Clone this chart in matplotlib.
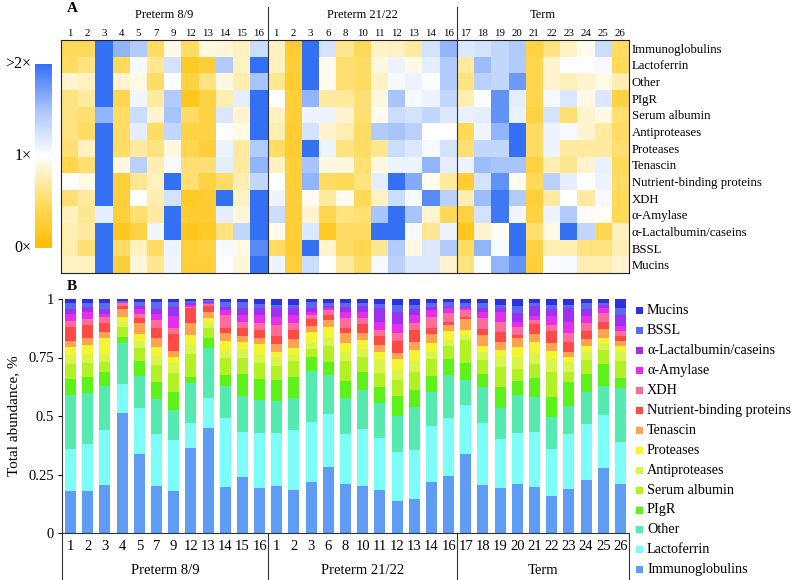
import numpy as np
import matplotlib
matplotlib.use("Agg")
import matplotlib.pyplot as plt
from matplotlib.colors import LinearSegmentedColormap
from matplotlib.patches import Rectangle

plt.rcParams['font.family'] = ['Liberation Serif', 'DejaVu Serif']

# ---------------- data ----------------
proteins = ["Immunoglobulins", "Lactoferrin", "Other", "PIgR", "Serum albumin",
            "Antiproteases", "Proteases", "Tenascin", "Nutrient-binding proteins",
            "XDH", "α-Amylase", "α-Lactalbumin/caseins", "BSSL", "Mucins"]

groups = ["Preterm 8/9", "Preterm 21/22", "Term"]
samples_pre89 = ["1", "2", "3", "4", "5", "7", "9", "12", "13", "14", "15", "16"]
samples_pre2122 = ["1", "2", "3", "6", "8", "10", "11", "12", "13", "14", "16"]
samples_term = ["17", "18", "19", "20", "21", "22", "23", "24", "25", "26"]

# fold change (0 .. >2) heatmap, rows = proteins, cols = samples
fold_pre89 = [
    [0.45, 0.45, 2.0, 1.6, 1.45, 0.5, 0.92, 0.5, 0.9, 0.88, 0.8, 1.3],
    [0.5, 0.6, 2.0, 0.45, 1.05, 0.65, 1.25, 0.2, 0.3, 1.45, 0.8, 2.0],
    [0.85, 0.8, 2.0, 0.85, 0.92, 0.5, 1.0, 0.35, 0.6, 0.9, 0.75, 1.5],
    [0.6, 0.7, 2.0, 0.4, 1.08, 0.7, 1.45, 0.15, 0.35, 0.75, 1.15, 2.0],
    [0.6, 0.55, 1.6, 0.5, 1.3, 0.85, 1.5, 0.5, 0.35, 1.2, 0.85, 2.0],
    [0.6, 0.5, 2.0, 0.5, 1.15, 0.5, 1.35, 0.35, 0.35, 1.02, 0.92, 2.0],
    [0.55, 0.8, 2.0, 0.5, 0.7, 0.6, 0.9, 0.4, 0.3, 1.1, 0.7, 1.45],
    [0.4, 0.55, 2.0, 0.9, 1.4, 0.75, 1.05, 0.55, 0.55, 1.15, 0.7, 1.6],
    [1.0, 0.92, 2.0, 0.3, 0.65, 0.8, 2.0, 0.55, 0.35, 0.5, 0.75, 1.35],
    [0.55, 0.7, 2.0, 0.3, 1.0, 0.75, 1.25, 0.2, 0.25, 2.0, 0.8, 2.0],
    [0.8, 0.65, 1.15, 0.3, 0.55, 0.7, 2.0, 0.25, 0.25, 1.15, 0.88, 2.0],
    [0.75, 0.7, 2.0, 0.15, 0.35, 1.08, 2.0, 0.15, 0.2, 0.6, 1.35, 2.0],
    [0.75, 0.55, 2.0, 0.5, 0.8, 0.5, 1.1, 0.3, 0.35, 1.05, 0.92, 1.85],
    [0.8, 0.8, 2.0, 0.3, 0.88, 0.65, 1.08, 0.3, 0.3, 1.02, 0.88, 2.0],
]
fold_pre2122 = [
    [0.8, 0.25, 2.0, 1.25, 0.65, 0.45, 0.82, 0.8, 0.7, 1.25, 1.6],
    [0.8, 0.3, 2.0, 0.95, 0.55, 0.5, 0.9, 1.1, 0.92, 1.15, 1.45],
    [0.65, 0.25, 2.0, 0.95, 0.55, 0.5, 0.82, 1.05, 1.1, 1.03, 1.45],
    [1.0, 0.3, 1.6, 0.7, 0.7, 0.55, 0.9, 1.5, 1.05, 1.1, 1.35],
    [0.8, 0.3, 1.1, 1.1, 0.85, 0.55, 0.95, 1.3, 1.25, 1.35, 1.2],
    [0.75, 0.25, 1.25, 0.85, 0.75, 0.5, 1.45, 1.5, 1.4, 1.0, 1.0],
    [0.5, 0.25, 2.0, 1.1, 0.6, 0.5, 0.65, 1.3, 1.2, 1.05, 1.25],
    [0.8, 0.3, 1.5, 0.9, 0.9, 0.55, 0.9, 1.1, 1.1, 1.6, 1.15],
    [1.0, 0.3, 1.6, 0.5, 0.45, 0.6, 1.15, 2.0, 1.65, 0.95, 0.7],
    [1.1, 0.3, 0.95, 0.7, 0.95, 0.45, 0.8, 1.3, 1.05, 1.85, 1.4],
    [1.3, 0.3, 0.85, 0.4, 0.6, 0.55, 1.5, 2.0, 1.5, 0.85, 0.45],
    [0.95, 0.3, 1.2, 0.2, 0.5, 0.5, 2.0, 2.0, 1.05, 0.65, 1.1],
    [0.5, 0.25, 2.0, 0.85, 0.5, 0.4, 0.65, 1.45, 0.9, 1.2, 1.45],
    [1.1, 0.3, 1.3, 1.0, 0.7, 0.5, 1.05, 1.4, 1.2, 1.2, 0.85],
]
fold_term = [
    [1.2, 1.25, 1.35, 1.45, 0.35, 0.6, 0.82, 0.95, 1.3, 0.5],
    [0.7, 1.55, 1.35, 1.45, 0.4, 0.85, 1.02, 1.02, 1.05, 0.45],
    [0.6, 1.4, 1.35, 1.75, 0.4, 0.85, 0.78, 0.85, 0.92, 0.75],
    [0.75, 1.0, 1.8, 1.15, 0.4, 1.05, 1.2, 0.92, 1.2, 0.35],
    [1.12, 1.15, 1.8, 1.12, 0.35, 1.25, 0.55, 0.85, 0.92, 0.55],
    [0.45, 1.08, 1.6, 2.0, 0.5, 1.1, 1.05, 0.85, 0.7, 0.5],
    [0.55, 1.35, 1.35, 2.0, 0.5, 1.1, 0.7, 0.7, 0.7, 0.55],
    [1.1, 1.55, 1.5, 1.5, 0.35, 0.75, 0.65, 0.85, 1.12, 0.45],
    [0.25, 1.25, 1.8, 0.95, 0.45, 1.4, 1.15, 1.0, 1.1, 0.5],
    [0.75, 1.55, 1.95, 1.45, 0.3, 0.7, 1.0, 0.7, 1.05, 0.45],
    [0.35, 1.25, 1.95, 1.08, 0.35, 1.1, 1.45, 1.03, 0.97, 0.45],
    [0.15, 0.85, 0.97, 2.0, 0.55, 0.92, 2.0, 1.35, 0.4, 0.8],
    [0.5, 1.6, 1.05, 2.0, 0.35, 0.75, 0.75, 0.6, 0.6, 0.75],
    [0.6, 1.0, 1.6, 1.8, 0.3, 1.03, 1.05, 0.75, 0.75, 0.85],
]

# relative abundance per sample (order = proteins list)
abund_pre89 = [
    [.180, .180, .231, .069, .064, .035, .036, .024, .060, .026, .031, .023, .024, .017],
    [.179, .203, .216, .070, .060, .033, .042, .032, .054, .026, .028, .024, .017, .016],
    [.204, .235, .189, .061, .043, .029, .071, .028, .036, .026, .015, .020, .027, .016],
    [.513, .122, .175, .029, .043, .021, .022, .032, .015, .009, .005, .003, .004, .007],
    [.336, .200, .135, .064, .054, .032, .028, .047, .021, .017, .023, .015, .017, .011],
    [.201, .224, .148, .074, .071, .040, .038, .039, .042, .033, .026, .021, .029, .014],
    [.179, .218, .129, .078, .078, .043, .029, .024, .071, .028, .052, .038, .019, .014],
    [.365, .107, .168, .028, .096, .039, .043, .050, .064, .007, .007, .007, .010, .009],
    [.447, .131, .211, .046, .040, .021, .021, .029, .026, .005, .007, .005, .005, .006],
    [.198, .292, .138, .047, .071, .036, .039, .035, .021, .055, .021, .014, .019, .014],
    [.238, .195, .152, .096, .065, .040, .029, .028, .032, .028, .029, .028, .026, .014],
    [.191, .238, .139, .090, .067, .036, .045, .029, .033, .028, .036, .028, .020, .020],
]
abund_pre2122 = [
    [.202, .225, .139, .088, .061, .037, .023, .031, .037, .046, .036, .035, .014, .026],
    [.185, .257, .133, .093, .067, .026, .028, .040, .039, .028, .036, .028, .014, .026],
    [.217, .259, .215, .060, .035, .025, .047, .028, .027, .019, .014, .014, .029, .011],
    [.282, .228, .167, .052, .072, .031, .047, .031, .022, .021, .010, .009, .012, .016],
    [.211, .211, .153, .076, .084, .040, .036, .042, .024, .043, .023, .021, .017, .019],
    [.201, .243, .167, .076, .067, .032, .039, .028, .040, .027, .026, .024, .014, .016],
    [.185, .221, .150, .068, .058, .062, .031, .028, .037, .028, .032, .060, .017, .023],
    [.138, .210, .151, .088, .067, .043, .047, .027, .050, .032, .040, .050, .031, .026],
    [.147, .208, .183, .075, .076, .046, .048, .035, .050, .028, .036, .024, .018, .026],
    [.219, .240, .144, .067, .074, .031, .036, .039, .027, .048, .028, .014, .014, .019],
    [.244, .246, .185, .069, .057, .024, .038, .026, .014, .036, .021, .007, .022, .011],
]
abund_term = [
    [.338, .209, .107, .071, .100, .021, .022, .047, .007, .031, .007, .007, .014, .019],
    [.205, .265, .155, .054, .060, .033, .029, .045, .026, .045, .026, .020, .018, .019],
    [.194, .208, .131, .092, .086, .047, .024, .036, .042, .043, .040, .017, .014, .026],
    [.208, .219, .164, .059, .051, .053, .042, .036, .014, .036, .021, .036, .031, .030],
    [.198, .235, .150, .078, .060, .047, .050, .031, .043, .018, .017, .043, .014, .016],
    [.160, .199, .137, .087, .106, .055, .034, .033, .052, .026, .040, .028, .017, .026],
    [.188, .234, .121, .104, .040, .045, .022, .021, .043, .035, .050, .057, .014, .026],
    [.225, .241, .135, .077, .061, .036, .026, .028, .034, .033, .031, .030, .024, .019],
    [.276, .228, .124, .096, .058, .029, .021, .038, .033, .036, .021, .014, .007, .019],
    [.208, .179, .231, .046, .071, .037, .029, .020, .022, .020, .023, .046, .031, .037],
]

bar_colors = ["#5F9CF6", "#7DFDF8", "#55EAB0", "#5DF21A", "#B2F225", "#D9F54A",
              "#F2F530", "#FFA352", "#FF4A45", "#FF6C9C", "#E32EEA", "#9E30F0",
              "#5A68F2", "#2B30E2"]

# ---------------- figure ----------------
fig = plt.figure(figsize=(7.98, 5.80), dpi=100)
W, H = 798.0, 580.0


def fbox(x0, y0, x1, y1):
    return [x0 / W, 1 - y1 / H, (x1 - x0) / W, (y1 - y0) / H]


sample_labels = samples_pre89 + samples_pre2122 + samples_term
n = len(sample_labels)
sizes = [len(samples_pre89), len(samples_pre2122), len(samples_term)]
bounds = np.concatenate([[0], np.cumsum(sizes)])

fold = np.hstack([np.array(fold_pre89), np.array(fold_pre2122), np.array(fold_term)])

cmap = LinearSegmentedColormap.from_list(
    "ow", [(0.0, "#FFBC00"), (0.25, "#FFDC62"), (0.5, "#FFFFFF"),
           (0.75, "#A8C6FB"), (1.0, "#3470F4")])

# ---- heatmap (A) ----
axh = fig.add_axes(fbox(61, 40, 629, 273))
mesh = axh.pcolormesh(np.arange(n + 1), np.arange(len(proteins) + 1), fold,
                      cmap=cmap, vmin=0, vmax=2)
axh.set_xlim(0, n)
axh.set_ylim(len(proteins), 0)
axh.set_xticks(np.arange(n) + 0.5)
axh.set_xticklabels(sample_labels, fontsize=7.8)
axh.xaxis.tick_top()
axh.tick_params(axis='x', length=0, pad=1.5)
axh.set_yticks(np.arange(len(proteins)) + 0.5)
axh.set_yticklabels(proteins, fontsize=9.2)
axh.yaxis.tick_right()
axh.tick_params(axis='y', length=0, pad=2)
for s in axh.spines.values():
    s.set_color("#222222")
    s.set_linewidth(0.8)
row_px = 233.0 / len(proteins)
for b in bounds[1:-1]:
    axh.plot([b, b], [len(proteins), -33.0 / row_px], color="#333333", lw=0.8,
             clip_on=False)
for gi, g in enumerate(groups):
    axh.text((bounds[gi] + bounds[gi + 1]) / 2, -25.0 / row_px, g, ha='center',
             va='center', fontsize=9)
fig.text(67 / W, 1 - 9 / H, "A", fontsize=11, fontweight='bold', ha='left', va='center')

# colorbar
cax = fig.add_axes(fbox(35, 64, 52, 248))
cb = fig.colorbar(mesh, cax=cax)
cb.outline.set_visible(False)
cb.set_ticks([])
for val, lab in [(2, ">2×"), (1, "1×"), (0, "0×")]:
    cax.text(-0.2, val, lab, transform=cax.get_yaxis_transform(), ha='right',
             va='center', fontsize=11.5)

# ---- stacked bars (B) ----
axb = fig.add_axes(fbox(62, 299, 629, 533))
abund = np.array(abund_pre89 + abund_pre2122 + abund_term)
xpos = np.arange(n) + 0.5
bottom = np.zeros(n)
for k, prot in enumerate(proteins):
    axb.bar(xpos, abund[:, k], width=0.64, bottom=bottom, color=bar_colors[k],
            linewidth=0, label=prot)
    bottom = bottom + abund[:, k]
axb.set_xlim(0, n)
axb.set_ylim(0, 1)
axb.set_yticks([0, 0.25, 0.5, 0.75, 1])
axb.set_yticklabels(["0", "0.25", "0.5", "0.75", "1"], fontsize=10.5)
axb.set_xticks(xpos)
axb.set_xticklabels(sample_labels, fontsize=10.5)
axb.tick_params(axis='x', length=0, pad=5)
axb.tick_params(axis='y', length=3, width=0.8, direction='out', pad=3)
axb.spines['top'].set_visible(False)
axb.spines['right'].set_visible(False)
axb.spines['left'].set_color("#333333")
axb.spines['bottom'].set_color("#333333")
axb.set_ylabel("Total abundance, %", fontsize=11, labelpad=6)
ypx = 234.0
for b in bounds:
    axb.plot([b, b], [0, -47.0 / ypx], color="#333333", lw=0.8, clip_on=False)
for gi, g in enumerate(groups):
    axb.text((bounds[gi] + bounds[gi + 1]) / 2, -37.0 / ypx, g, ha='center',
             va='center', fontsize=10.5)
fig.text(67 / W, 1 - 287 / H, "B", fontsize=11, fontweight='bold', ha='left', va='center')

# legend (Mucins on top)
for i, k in enumerate(range(len(proteins) - 1, -1, -1)):
    yc = 311 + i * 19.9
    fig.add_artist(Rectangle((636 / W, 1 - (yc + 3.5) / H), 7 / W, 7 / H,
                             transform=fig.transFigure, color=bar_colors[k], lw=0))
    fig.text(647 / W, 1 - yc / H, proteins[k], fontsize=10.2, ha='left', va='center')

fig.savefig("out.png", dpi=100)
